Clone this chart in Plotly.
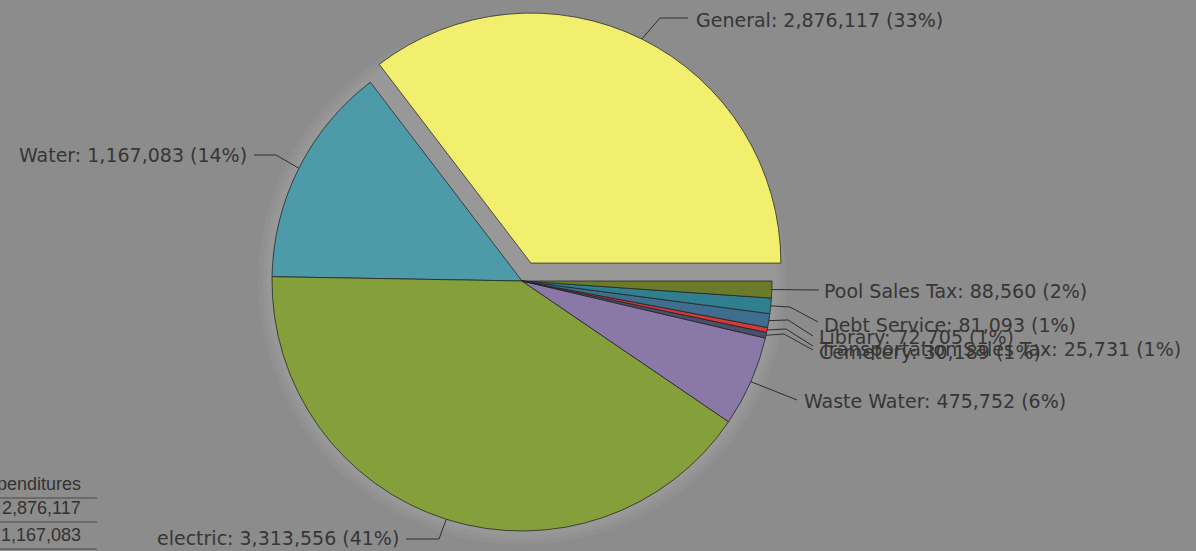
import math
import plotly.graph_objects as go

# Expenditures by fund
funds = ["General", "Water", "electric", "Waste Water", "Cemetery",
         "Transportation Sales Tax", "Library", "Debt Service", "Pool Sales Tax"]
amounts = [2876117, 1167083, 3313556, 475752, 30189, 25731, 72705, 81093, 88560]
shares = ["33%", "14%", "41%", "6%", "1%", "1%", "1%", "1%", "2%"]

# Summary table (first two funds)
table_header = "Expenditures"
table_rows = [amounts[0], amounts[1]]

colors = ["#f3ef6e", "#4d9ba9", "#85a03b", "#8a79a7", "#4b4f6c",
          "#d23a36", "#3e6d8e", "#2f7f8f", "#6b7b2c"]

W, H = 1196, 551
BG = "#8c8c8c"
TXT = "#363636"
FONT = "DejaVu Sans, Verdana, sans-serif"

# pie geometry in pixels
cx, cy, R = 522, 281, 250
PULL = 0.08
half = R * (1 + PULL)


def px(x):
    return x / W


def py(y):
    return 1 - y / H


pulls = [PULL] + [0] * (len(funds) - 1)
total = sum(amounts)

# counterclockwise pies place the first slice clockwise of `rotation`,
# so shift by its sweep to make it start at 3 o'clock
rotation = 90 - 360 * amounts[0] / total

fig = go.Figure(go.Pie(
    labels=funds,
    values=amounts,
    sort=False,
    direction="counterclockwise",
    rotation=rotation,
    pull=pulls,
    marker=dict(colors=colors, line=dict(color="rgba(35,35,35,0.75)", width=1)),
    textinfo="none",
    hoverinfo="label+value",
    showlegend=False,
    domain=dict(x=[px(cx - half), px(cx + half)], y=[py(cy + half), py(cy - half)]),
))

# edge point of each slice at its mid angle (counterclockwise from 3 o'clock)
edge = []
acc = 0.0
for v, p in zip(amounts, pulls):
    mid = (acc + v / 2) / total * 2 * math.pi
    acc += v
    ox = cx + p * R * math.cos(mid)
    oy = cy - p * R * math.sin(mid)
    edge.append((ox + R * math.cos(mid), oy - R * math.sin(mid)))

# label placement: text anchor point, alignment and leader-line bends
placement = {
    "General": dict(x=694, y=20, xanchor="left", bends=[(660, 18), (688, 18)]),
    "Water": dict(x=249, y=155, xanchor="right", bends=[(276, 155), (254, 155)]),
    "electric": dict(x=401, y=538, xanchor="right", bends=[(439, 539), (406, 539)]),
    "Waste Water": dict(x=802, y=401, xanchor="left", bends=[(797, 400)]),
    "Cemetery": dict(x=817, y=352, xanchor="left", bends=[(784, 334), (813, 350)]),
    "Transportation Sales Tax": dict(x=817, y=349, xanchor="left", bends=[(786, 329), (813, 346)]),
    "Library": dict(x=817, y=337, xanchor="left", bends=[(788, 320), (813, 336)]),
    "Debt Service": dict(x=822, y=325, xanchor="left", bends=[(790, 307), (818, 322)]),
    "Pool Sales Tax": dict(x=822, y=291, xanchor="left", bends=[(819, 290)]),
}

shapes = []
# soft halo around the pie
for k, a in [(14, 0.035), (9, 0.04), (5, 0.045)]:
    shapes.append(dict(type="circle", xref="paper", yref="paper", layer="below",
                       x0=px(cx - R - k), x1=px(cx + R + k),
                       y0=py(cy + R + k), y1=py(cy - R - k),
                       fillcolor=f"rgba(255,255,255,{a})", line=dict(width=0)))

annotations = []
for name, v, share, e in zip(funds, amounts, shares, edge):
    pl = placement[name]
    pts = [e] + pl["bends"]
    path = "M " + " L ".join(f"{px(x):.5f},{py(y):.5f}" for x, y in pts)
    shapes.append(dict(type="path", xref="paper", yref="paper", path=path,
                       line=dict(color="#2e2e2e", width=1)))
    annotations.append(dict(
        xref="paper", yref="paper", x=px(pl["x"]), y=py(pl["y"]),
        xanchor=pl["xanchor"], yanchor="middle", showarrow=False,
        text=f"{name}: {v:,} ({share})",
        font=dict(family=FONT, size=19, color=TXT),
    ))

# partial summary table at the lower left
tab_font = dict(family="Liberation Sans, Arial, sans-serif", size=18, color="#333333")
annotations.append(dict(xref="paper", yref="paper", x=px(83), y=py(484),
                        xanchor="right", yanchor="middle", showarrow=False,
                        text=table_header, font=tab_font))
for row_y, val in zip([508, 535], table_rows):
    annotations.append(dict(xref="paper", yref="paper", x=px(83), y=py(row_y),
                            xanchor="right", yanchor="middle", showarrow=False,
                            text=f"{val:,}", font=tab_font))
for line_y in [498, 522, 549]:
    shapes.append(dict(type="line", xref="paper", yref="paper",
                       x0=0, x1=px(97), y0=py(line_y), y1=py(line_y),
                       line=dict(color="#4a4a4a", width=1)))

fig.update_layout(
    width=W, height=H,
    margin=dict(l=0, r=0, t=0, b=0),
    paper_bgcolor=BG, plot_bgcolor=BG,
    shapes=shapes, annotations=annotations,
)

fig.write_html("out.html")
